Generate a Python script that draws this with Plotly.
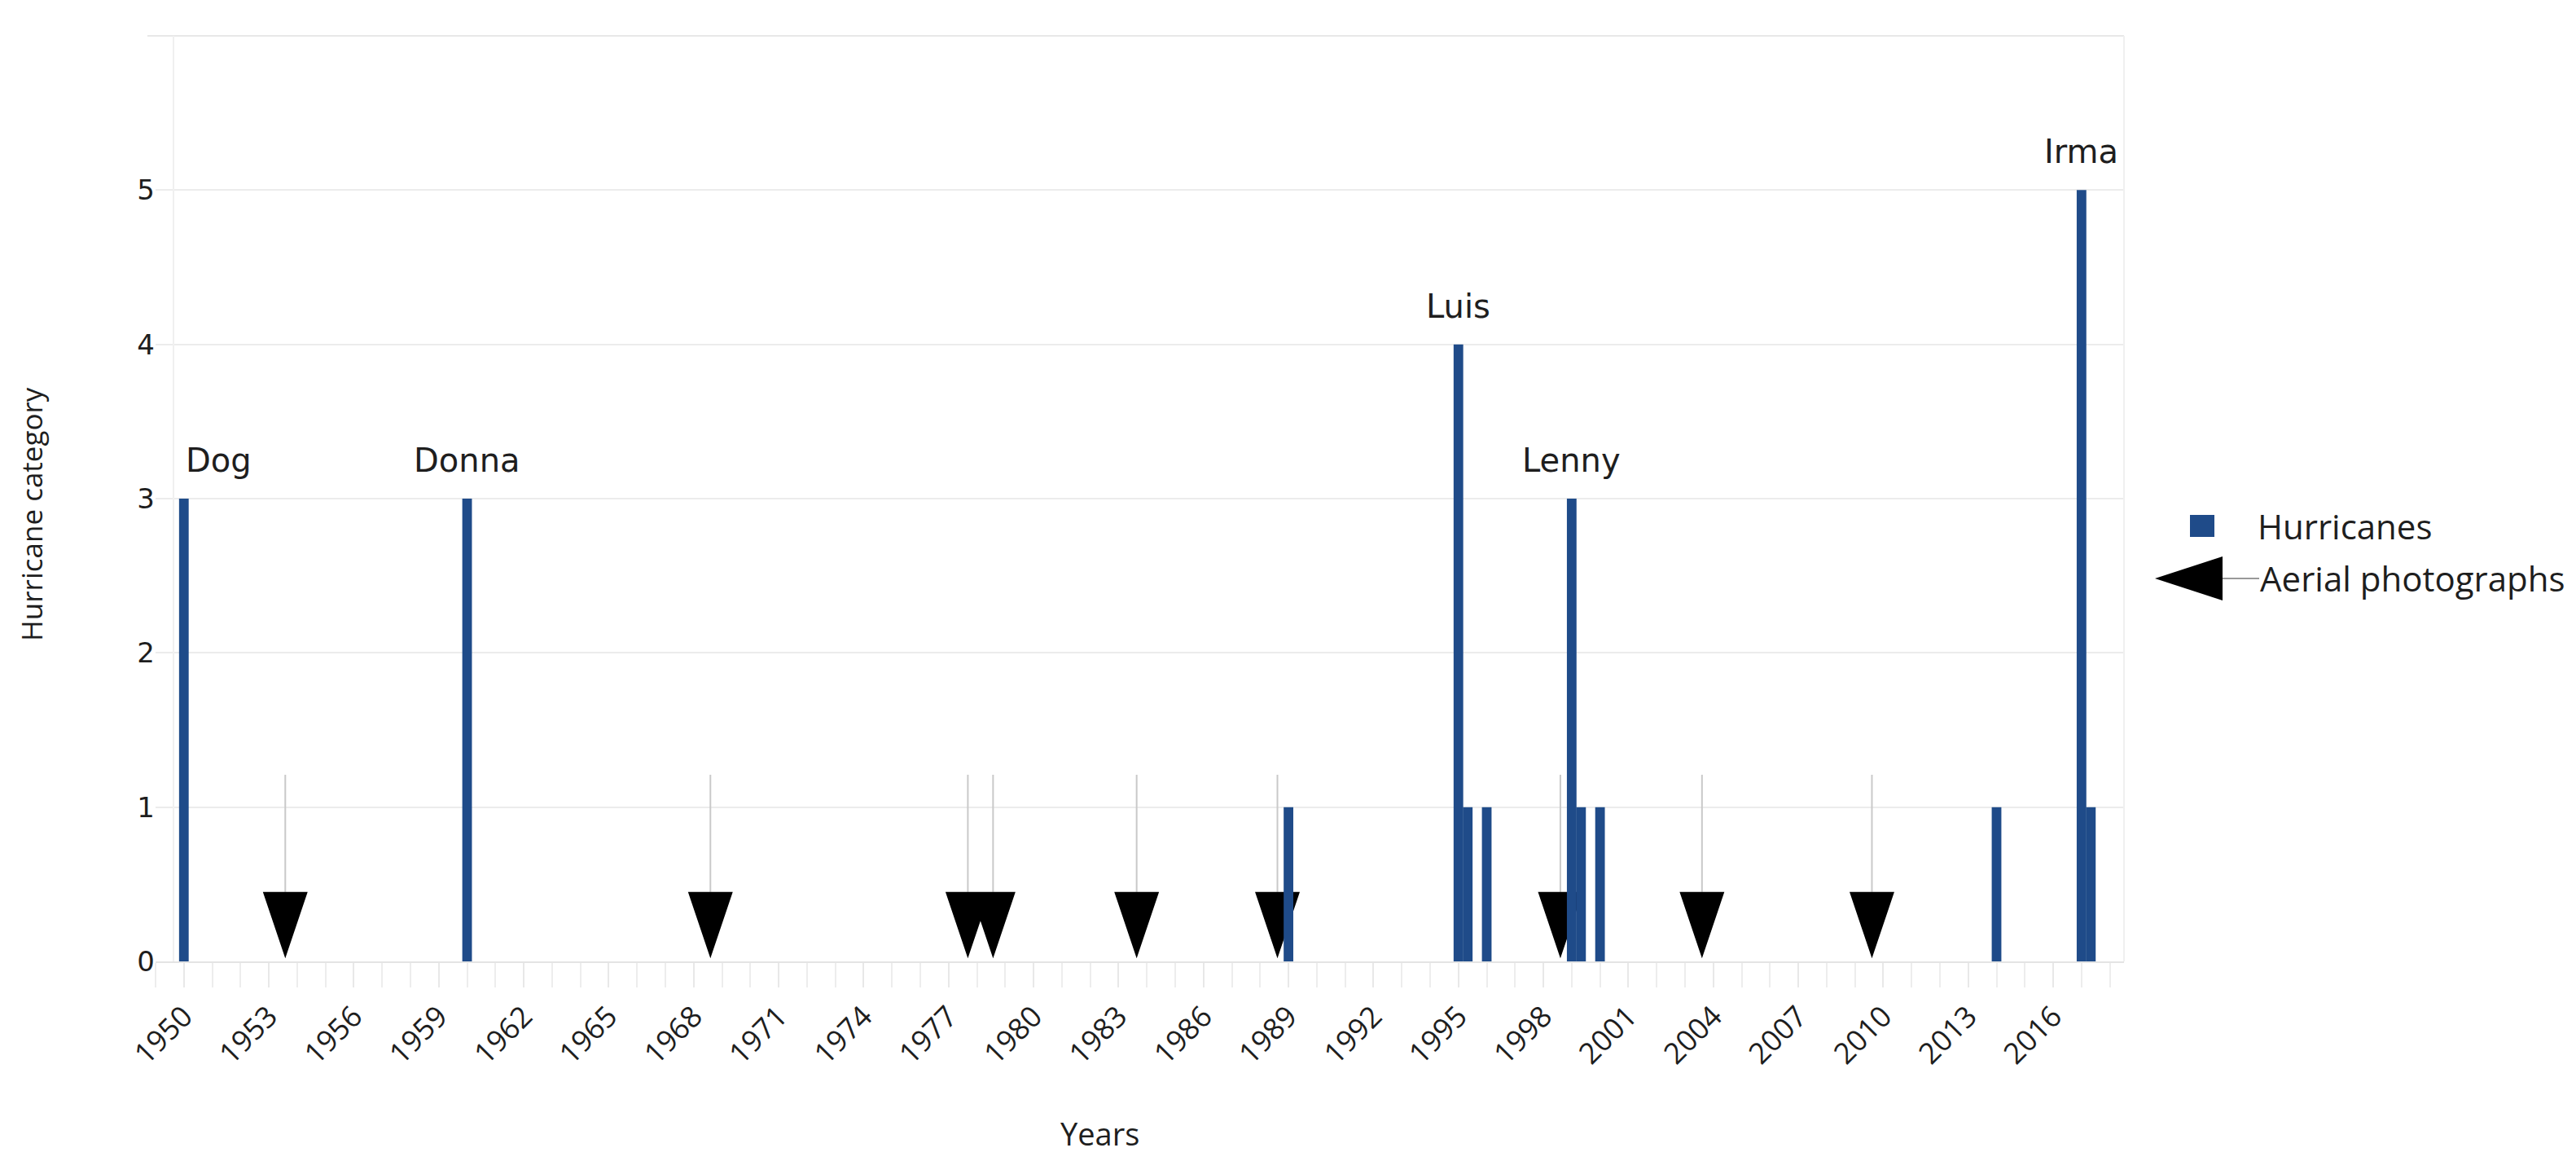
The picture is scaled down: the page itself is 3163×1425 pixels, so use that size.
import plotly.graph_objects as go

# hurricanes (year position, category)
hurricane_years = [1950, 1960, 1989, 1995, 1995.33, 1996, 1999, 1999.33, 2000, 2014, 2017, 2017.33]
hurricane_cats = [3, 3, 1, 4, 1, 1, 3, 1, 1, 1, 5, 1]

# named storms shown above bars
storm_names = ['Dog', 'Donna', 'Luis', 'Lenny', 'Irma']
storm_years = [1950, 1960, 1995, 1999, 2017]
storm_cats = [3, 3, 4, 3, 5]

# aerial photograph dates
photo_years = [1953.58, 1968.59, 1977.68, 1978.57, 1983.64, 1988.61, 1998.6, 2003.6, 2009.6]

tick_years = list(range(1950, 2017, 3))

W, H = 3163, 1425
L, R, T, B = 183, 563, 36, 253
BLUE = '#1f4b89'
TXT = '#1e1e1e'


def px(x):
    return (x - L) / (W - L - R)


def py(y):
    return (H - B - y) / (H - T - B)


# arrow stems and heads
stem_x, stem_y = [], []
head_x, head_y = [], []
for yr in photo_years:
    stem_x += [yr, yr, None]
    stem_y += [1.21, 0.45, None]
    head_x += [yr - 0.79, yr + 0.79, yr, yr - 0.79, None]
    head_y += [0.45, 0.45, 0.02, 0.45, None]

fig = go.Figure()
fig.add_trace(go.Scatter(x=stem_x, y=stem_y, mode='lines',
                         line=dict(color='#c9c9c9', width=2), showlegend=False, hoverinfo='skip'))
fig.add_trace(go.Scatter(x=head_x, y=head_y, mode='lines', fill='toself', fillcolor='black',
                         line=dict(color='black', width=0), showlegend=False, hoverinfo='skip'))
# bars on an overlaid axis so they sit above the arrow heads
fig.add_trace(go.Bar(x=hurricane_years, y=hurricane_cats, width=0.34, xaxis='x2', yaxis='y2',
                     marker=dict(color=BLUE, line=dict(width=0)), showlegend=False))

xrange = [1949.0, 2018.5]
yrange = [0, 6]

annotations = []
for name, yr, cat in zip(storm_names, storm_years, storm_cats):
    annotations.append(dict(x=yr, y=cat, xref='x', yref='y', text=name, showarrow=False,
                            xanchor='left' if yr == 1950 else 'center', yanchor='bottom', yshift=22,
                            font=dict(family='DejaVu Sans', size=40, color=TXT)))

annotations += [
    dict(x=px(1342), y=py(1383), xref='paper', yref='paper', text='Years', showarrow=False,
         xanchor='center', yanchor='middle',
         font=dict(family='Open Sans', size=38, color=TXT)),
    dict(x=px(30), y=py(623), xref='paper', yref='paper', text='Hurricane category', textangle=-90,
         xanchor='center', yanchor='middle',
         showarrow=False, font=dict(family='Open Sans', size=35, color=TXT)),
    dict(x=px(2762), y=py(637), xref='paper', yref='paper', text='Hurricanes', showarrow=False,
         xanchor='left', yanchor='middle', font=dict(family='Open Sans', size=42, color=TXT)),
    dict(x=px(2765), y=py(702), xref='paper', yref='paper', text='Aerial photographs', showarrow=False,
         xanchor='left', yanchor='middle', font=dict(family='Open Sans', size=42, color=TXT)),
]

shapes = [
    # faint frame
    dict(type='line', xref='paper', yref='paper', x0=px(173), x1=1, y0=1, y1=1,
         line=dict(color='#e8e8e8', width=2)),
    dict(type='line', xref='paper', yref='paper', x0=1, x1=1, y0=0, y1=1,
         line=dict(color='#f0f0f0', width=2)),
    dict(type='line', xref='paper', yref='paper', x0=px(205), x1=px(205), y0=0, y1=1,
         line=dict(color='#f0f0f0', width=2)),
    # legend symbols
    dict(type='rect', xref='paper', yref='paper', x0=px(2681), x1=px(2711), y0=py(651), y1=py(624),
         fillcolor=BLUE, line=dict(width=0)),
    dict(type='path', xref='paper', yref='paper',
         path='M {},{} L {},{} L {},{} Z'.format(px(2638), py(702), px(2721), py(675), px(2721), py(729)),
         fillcolor='black', line=dict(width=0)),
    dict(type='line', xref='paper', yref='paper', x0=px(2721), x1=px(2766), y0=py(702), y1=py(702),
         line=dict(color='#999999', width=2)),
]

fig.update_layout(
    width=W, height=H,
    margin=dict(l=L, r=R, t=T, b=B),
    paper_bgcolor='white', plot_bgcolor='white',
    showlegend=False,
    xaxis=dict(range=xrange, tickmode='array', tickvals=tick_years, ticktext=[str(t) for t in tick_years],
               tickangle=-45,
               ticks='outside', ticklen=30, tickwidth=2, tickcolor='#e8e8e8',
               minor=dict(tick0=1950, dtick=1, ticks='outside', ticklen=30, tickwidth=2,
                          tickcolor='#ededed', showgrid=False),
               showgrid=False, zeroline=False, showline=True, linecolor='#e4e4e4', linewidth=2,
               tickfont=dict(family='Open Sans', size=36, color=TXT)),
    yaxis=dict(range=yrange, tickvals=[0, 1, 2, 3, 4, 5], showgrid=True, gridcolor='#ececec',
               gridwidth=2, zeroline=False, showline=False, ticks='',
               tickfont=dict(family='DejaVu Sans', size=34, color=TXT)),
    xaxis2=dict(range=xrange, overlaying='x', visible=False, showgrid=False),
    yaxis2=dict(range=yrange, overlaying='y', visible=False, showgrid=False),
    annotations=annotations,
    shapes=shapes,
)

fig.write_html("out.html")
